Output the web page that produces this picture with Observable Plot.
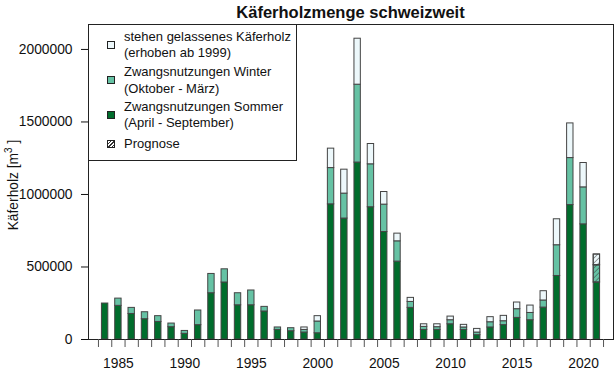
<!DOCTYPE html>
<html>
<head>
<meta charset="utf-8">
<script src="https://cdn.jsdelivr.net/npm/d3@7"></script>
<script src="https://cdn.jsdelivr.net/npm/@observablehq/plot@0.6"></script>
<style>
  html, body { margin: 0; padding: 0; background: #fff; }
  body { font-family: "Liberation Sans", Arial, sans-serif; color: #111; }
  #wrap { position: relative; width: 616px; height: 388px; overflow: hidden; }
  #title { position: absolute; left: 88px; top: 3px; width: 525px; text-align: center;
           font-weight: bold; font-size: 16.5px; line-height: 18px; }
  #ylab { position: absolute; left: 13.5px; top: 185px; width: 120px; height: 16px; line-height: 16px;
          margin-left: -60px; margin-top: -8px; text-align: center; font-size: 13.8px;
          transform: rotate(-90deg); white-space: nowrap; }
  #ylab sup { font-size: 10px; vertical-align: 6px; line-height: 0; }
  #legend { position: absolute; left: 88px; top: 24px; width: 209px; height: 137px;
            box-sizing: border-box; border: 1px solid #222; background: #fff; font-size: 13px; }
  .sw { position: absolute; left: 18px; width: 6px; height: 6px; border: 1px solid #222; }
  .lt { position: absolute; left: 35px; height: 16px; line-height: 16px; white-space: nowrap; }
</style>
</head>
<body>
<div id="wrap">
  <div id="chart"></div>
  <div id="title"></div>
  <div id="ylab"></div>
  <div id="legend"></div>
</div>
<script>
// ---- data (m³) ----
const years = d3.range(1984, 2022);
const sommer = [248000,232000,176000,140000,121000,85000,39000,99000,319000,393000,
                236000,236000,193000,66000,57000,48000,43000,932000,834000,1220000,
                912000,741000,537000,218000,66000,66000,105000,66000,30000,83000,
                99000,149000,133000,220000,438000,927000,794000,393000];
const winter = [0,50000,42000,48000,40000,25000,20000,101000,133000,91000,
                83000,102000,32000,17000,21000,18000,81000,250000,172000,537000,
                296000,189000,140000,41000,21000,19000,28000,17000,18000,36000,
                27000,60000,50000,49000,212000,324000,255000,119000];
const stehen = [0,0,0,0,0,0,0,0,0,0,
                0,0,0,0,0,17000,37000,134000,165000,317000,
                140000,87000,53000,28000,18000,20000,25000,18000,25000,35000,
                37000,46000,51000,64000,179000,239000,168000,74000];
const prognoseYears = [2021];
const prognoseParts = ["Winter", "stehen"];
const seriesKeys = ["Sommer", "Winter", "stehen"];
const seriesColors = ["#006d2c", "#66c2a4", "#edf8fb"];
const yTicks = [0, 500000, 1000000, 1500000, 2000000];
const labelYears = [1985, 1990, 1995, 2000, 2005, 2010, 2015, 2020];
const titleText = "Käferholzmenge schweizweit";
const legendItems = [
  {key: "stehen", lines: ["stehen gelassenes Käferholz", "(erhoben ab 1999)"]},
  {key: "Winter", lines: ["Zwangsnutzungen Winter", "(Oktober - März)"]},
  {key: "Sommer", lines: ["Zwangsnutzungen Sommer", "(April - September)"]},
  {key: "Prognose", lines: ["Prognose"]}
];

// ---- build stacked records ----
const series = {Sommer: sommer, Winter: winter, stehen: stehen};
const rows = [];
years.forEach((yr, i) => {
  let base = 0;
  for (const k of seriesKeys) {
    const v = series[k][i];
    if (v > 0) {
      rows.push({year: yr, type: k, y1: base, y2: base + v,
                 prognose: prognoseYears.includes(yr) && prognoseParts.includes(k)});
      base += v;
    }
  }
});
const halfYears = d3.range(years[0] - 0.5, years[years.length - 1] + 1, 1);
const bw = 0.24;

const chart = Plot.plot({
  width: 616, height: 388,
  marginLeft: 88, marginRight: 3, marginTop: 24, marginBottom: 49,
  x: {domain: [years[0] - 1.25, years[years.length - 1] + 1.25]},
  y: {domain: [0, 2172000]},
  color: {domain: seriesKeys, range: seriesColors},
  style: {fontFamily: "'Liberation Sans', Arial, sans-serif", fontSize: "13.8px", color: "#111", background: "#fff"},
  marks: [
    Plot.rect(rows, {x1: d => d.year - bw, x2: d => d.year + bw, y1: "y1", y2: "y2",
                     fill: "type", stroke: "#444", strokeWidth: 1}),
    Plot.rect(rows.filter(d => d.prognose), {x1: d => d.year - bw, x2: d => d.year + bw, y1: "y1", y2: "y2",
                     fill: "url(#hatch)", stroke: "#444", strokeWidth: 1}),
    Plot.frame({stroke: "#222"}),
    Plot.axisY({ticks: yTicks, tickFormat: d => String(d), tickSize: 7, tickPadding: 9,
                label: null, fontSize: 13.8}),
    Plot.axisX({ticks: halfYears, tickFormat: () => "", tickSize: 8, label: null, stroke: "#555"}),
    Plot.axisX({ticks: labelYears, tickFormat: d => String(d), tickSize: 0, tickPadding: 19,
                label: null, fontSize: 13.8})
  ]
});

// hatch pattern
const defs = d3.select(chart).insert("defs", ":first-child");
const pat = defs.append("pattern").attr("id", "hatch").attr("patternUnits", "userSpaceOnUse")
  .attr("width", 3.5).attr("height", 3.5).attr("patternTransform", "rotate(45)");
pat.append("line").attr("x1", 0).attr("y1", 0).attr("x2", 0).attr("y2", 3.5)
  .attr("stroke", "#333").attr("stroke-width", 0.9);

document.getElementById("chart").appendChild(chart);
document.getElementById("title").textContent = titleText;
document.getElementById("ylab").innerHTML = "Käferholz [m<sup>3</sup> ]";

// legend
const legend = document.getElementById("legend");
const itemTops = [[11.5, 28.3], [46.5, 63.5], [81.5, 97.5], [118.5]];
const swCenters = [20, 55, 89.5, 118.5];
legendItems.forEach((it, i) => {
  const sw = document.createElement("div");
  sw.className = "sw";
  sw.style.top = (swCenters[i] - 4) + "px";
  if (it.key === "Prognose") {
    sw.style.background = "repeating-linear-gradient(135deg, #fff 0 1.5px, #333 1.5px 2.5px)";
  } else {
    sw.style.background = seriesColors[seriesKeys.indexOf(it.key)];
  }
  legend.appendChild(sw);
  it.lines.forEach((ln, j) => {
    const t = document.createElement("div");
    t.className = "lt";
    t.style.top = (itemTops[i][j] - 8) + "px";
    t.textContent = ln;
    legend.appendChild(t);
  });
});
</script>
</body>
</html>
